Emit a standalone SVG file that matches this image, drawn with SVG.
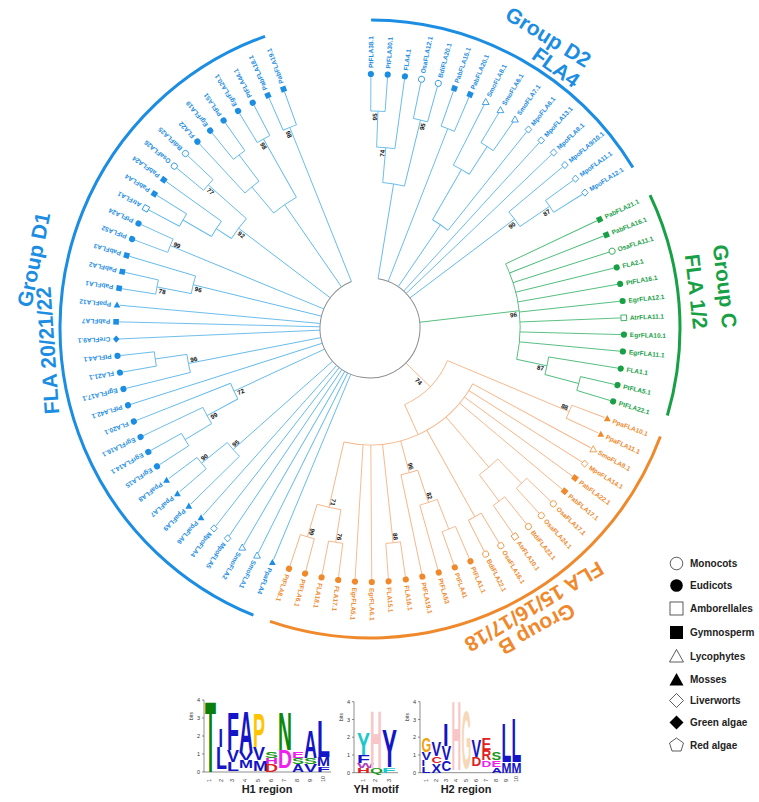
<svg xmlns="http://www.w3.org/2000/svg" width="759" height="802" viewBox="0 0 759 802">
<style>
text{font-family:'Liberation Sans',Arial,sans-serif;font-weight:bold}
.lf{font-size:6.5px}
.conn line,.conn circle{fill:none;stroke-width:0.9}
.cb line,.cb circle{stroke:#62b9ea}
.cg line,.cg circle{stroke:#4dbb7a}
.co line,.co circle{stroke:#f6b587}
.conn .root{stroke:#8c8c8c;stroke-width:1}
.nb text{fill:#1b8de2}.ng text{fill:#17a046}.no text{fill:#f0892c}
.nb .F{fill:#1b8de2}.nb .O{fill:#fff;stroke:#1b8de2;stroke-width:0.8}
.ng .F{fill:#17a046}.ng .O{fill:#fff;stroke:#17a046;stroke-width:0.8}
.no .F{fill:#f0892c}.no .O{fill:#fff;stroke:#f0892c;stroke-width:0.8}
.bs text{font-size:6.3px;fill:#111;text-anchor:middle;dominant-baseline:central}
.grp circle{fill:none;stroke-width:3}
.gl{font-size:21px;text-anchor:middle}
.leg text{font-size:10px;fill:#222}
.leg .s{fill:#fff;stroke:#333;stroke-width:0.8}
.leg .k{fill:#000}
.ax line{stroke:#444;stroke-width:0.6}
.ax text{font-size:5.5px;font-weight:normal;fill:#333}
.lg text{font-size:10px}
.cap{font-size:11px;fill:#222;text-anchor:middle}
</style>
<defs>
<circle id="C" r="3.1"/>
<rect id="S" x="-2.8" y="-2.8" width="5.6" height="5.6"/>
<path id="T" d="M0,-3.5L3.4,2.6L-3.4,2.6Z"/>
<path id="D" d="M0,-3.6L3.3,0L0,3.6L-3.3,0Z"/>
</defs>

<g transform="translate(370 328)">
<g id="group-arcs" class="grp">
<circle r="308" pathLength="360" stroke-dasharray="58.4 400" transform="rotate(-89.8)" stroke="#1b8de2"/>
<circle r="310" pathLength="360" stroke-dasharray="41.8 400" transform="rotate(-25.4)" stroke="#17a046"/>
<circle r="310" pathLength="360" stroke-dasharray="88.3 400" transform="rotate(20.5)" stroke="#f0892c"/>
<circle r="310" pathLength="360" stroke-dasharray="138.1 400" transform="rotate(112.1)" stroke="#1b8de2"/>
</g>

<g id="connectors" class="conn">
<circle class="root" r="50" pathLength="360" stroke-dasharray="328.9 400" transform="rotate(-80.7)"/>
<g class="cb">
<line x1="217" x2="251" transform="rotate(-89.8)"/>
<line x1="217" x2="251" transform="rotate(-86)"/>
<circle r="217" pathLength="360" stroke-dasharray="3.8 400" transform="rotate(-89.8)"/>
<line x1="181" x2="217" transform="rotate(-87.9)"/>
<line x1="181" x2="251" transform="rotate(-82.1)"/>
<circle r="181" pathLength="360" stroke-dasharray="5.8 400" transform="rotate(-87.9)"/>
<line x1="214" x2="251" transform="rotate(-78.3)"/>
<line x1="214" x2="251" transform="rotate(-74.4)"/>
<circle r="214" pathLength="360" stroke-dasharray="3.9 400" transform="rotate(-78.3)"/>
<line x1="146" x2="181" transform="rotate(-85)"/>
<line x1="146" x2="214" transform="rotate(-76.35)"/>
<circle r="146" pathLength="360" stroke-dasharray="8.65 400" transform="rotate(-85)"/>
<line x1="50" x2="146" transform="rotate(-80.7)"/>
<line x1="214" x2="251" transform="rotate(-70.6)"/>
<line x1="214" x2="251" transform="rotate(-66.8)"/>
<circle r="214" pathLength="360" stroke-dasharray="3.8 400" transform="rotate(-70.6)"/>
<line x1="50" x2="214" transform="rotate(-68.7)"/>
<line x1="216" x2="251" transform="rotate(-59.1)"/>
<line x1="216" x2="251" transform="rotate(-55.2)"/>
<circle r="216" pathLength="360" stroke-dasharray="3.9 400" transform="rotate(-59.1)"/>
<line x1="183" x2="251" transform="rotate(-62.9)"/>
<line x1="183" x2="216" transform="rotate(-57.15)"/>
<circle r="183" pathLength="360" stroke-dasharray="5.75 400" transform="rotate(-62.9)"/>
<line x1="125" x2="183" transform="rotate(-60)"/>
<line x1="125" x2="251" transform="rotate(-51.4)"/>
<circle r="125" pathLength="360" stroke-dasharray="8.6 400" transform="rotate(-60)"/>
<line x1="50" x2="125" transform="rotate(-55.7)"/>
<line x1="50" x2="251" transform="rotate(-47.6)"/>
<line x1="50" x2="251" transform="rotate(-43.7)"/>
<line x1="217" x2="251" transform="rotate(-36)"/>
<line x1="217" x2="251" transform="rotate(-32.2)"/>
<circle r="217" pathLength="360" stroke-dasharray="3.8 400" transform="rotate(-36)"/>
<line x1="181" x2="251" transform="rotate(-39.9)"/>
<line x1="181" x2="217" transform="rotate(-34.1)"/>
<circle r="181" pathLength="360" stroke-dasharray="5.8 400" transform="rotate(-39.9)"/>
<line x1="50" x2="181" transform="rotate(-37)"/>
<line x1="50" x2="251" transform="rotate(112.6)"/>
<line x1="50" x2="251" transform="rotate(116.4)"/>
<line x1="50" x2="251" transform="rotate(120.2)"/>
<line x1="50" x2="251" transform="rotate(124.1)"/>
<line x1="50" x2="251" transform="rotate(127.9)"/>
<line x1="50" x2="251" transform="rotate(131.7)"/>
<line x1="216" x2="251" transform="rotate(139.3)"/>
<line x1="216" x2="251" transform="rotate(143.2)"/>
<circle r="216" pathLength="360" stroke-dasharray="3.9 400" transform="rotate(139.3)"/>
<line x1="183" x2="216" transform="rotate(141.25)"/>
<line x1="183" x2="251" transform="rotate(135.5)"/>
<circle r="183" pathLength="360" stroke-dasharray="5.75 400" transform="rotate(135.5)"/>
<line x1="50" x2="183" transform="rotate(138.4)"/>
<line x1="216" x2="251" transform="rotate(147)"/>
<line x1="216" x2="251" transform="rotate(150.8)"/>
<circle r="216" pathLength="360" stroke-dasharray="3.8 400" transform="rotate(147)"/>
<line x1="185" x2="216" transform="rotate(148.9)"/>
<line x1="185" x2="251" transform="rotate(154.6)"/>
<circle r="185" pathLength="360" stroke-dasharray="5.7 400" transform="rotate(148.9)"/>
<line x1="150" x2="185" transform="rotate(151.75)"/>
<line x1="150" x2="251" transform="rotate(158.4)"/>
<circle r="150" pathLength="360" stroke-dasharray="6.65 400" transform="rotate(151.75)"/>
<line x1="50" x2="150" transform="rotate(155.1)"/>
<line x1="50" x2="251" transform="rotate(162.3)"/>
<line x1="217" x2="251" transform="rotate(169.9)"/>
<line x1="217" x2="251" transform="rotate(173.7)"/>
<circle r="217" pathLength="360" stroke-dasharray="3.8 400" transform="rotate(169.9)"/>
<line x1="185" x2="217" transform="rotate(171.8)"/>
<line x1="185" x2="251" transform="rotate(166.1)"/>
<circle r="185" pathLength="360" stroke-dasharray="5.7 400" transform="rotate(166.1)"/>
<line x1="50" x2="185" transform="rotate(168.95)"/>
<line x1="50" x2="251" transform="rotate(177.5)"/>
<line x1="50" x2="251" transform="rotate(181.4)"/>
<line x1="50" x2="251" transform="rotate(185.2)"/>
<line x1="217" x2="251" transform="rotate(189)"/>
<line x1="217" x2="251" transform="rotate(192.8)"/>
<circle r="217" pathLength="360" stroke-dasharray="3.8 400" transform="rotate(189)"/>
<line x1="182" x2="217" transform="rotate(190.9)"/>
<line x1="182" x2="251" transform="rotate(196.6)"/>
<circle r="182" pathLength="360" stroke-dasharray="5.7 400" transform="rotate(190.9)"/>
<line x1="50" x2="182" transform="rotate(193.75)"/>
<line x1="216" x2="251" transform="rotate(200.5)"/>
<line x1="216" x2="251" transform="rotate(204.3)"/>
<circle r="216" pathLength="360" stroke-dasharray="3.8 400" transform="rotate(200.5)"/>
<line x1="50" x2="216" transform="rotate(202.4)"/>
<line x1="216" x2="251" transform="rotate(208.1)"/>
<line x1="216" x2="251" transform="rotate(211.9)"/>
<circle r="216" pathLength="360" stroke-dasharray="3.8 400" transform="rotate(208.1)"/>
<line x1="183" x2="216" transform="rotate(210)"/>
<line x1="183" x2="251" transform="rotate(215.7)"/>
<circle r="183" pathLength="360" stroke-dasharray="5.7 400" transform="rotate(210)"/>
<line x1="165" x2="183" transform="rotate(212.85)"/>
<line x1="216" x2="251" transform="rotate(219.6)"/>
<line x1="216" x2="251" transform="rotate(223.4)"/>
<circle r="216" pathLength="360" stroke-dasharray="3.8 400" transform="rotate(219.6)"/>
<line x1="165" x2="216" transform="rotate(221.5)"/>
<circle r="165" pathLength="360" stroke-dasharray="8.65 400" transform="rotate(212.85)"/>
<line x1="50" x2="165" transform="rotate(217.2)"/>
<line x1="217" x2="251" transform="rotate(231)"/>
<line x1="217" x2="251" transform="rotate(234.8)"/>
<circle r="217" pathLength="360" stroke-dasharray="3.8 400" transform="rotate(231)"/>
<line x1="184" x2="217" transform="rotate(232.9)"/>
<line x1="184" x2="251" transform="rotate(227.2)"/>
<circle r="184" pathLength="360" stroke-dasharray="5.7 400" transform="rotate(227.2)"/>
<line x1="150" x2="184" transform="rotate(230.05)"/>
<line x1="217" x2="251" transform="rotate(238.7)"/>
<line x1="217" x2="251" transform="rotate(242.5)"/>
<circle r="217" pathLength="360" stroke-dasharray="3.8 400" transform="rotate(238.7)"/>
<line x1="150" x2="217" transform="rotate(240.6)"/>
<circle r="150" pathLength="360" stroke-dasharray="10.55 400" transform="rotate(230.05)"/>
<line x1="50" x2="150" transform="rotate(235.3)"/>
<line x1="216" x2="251" transform="rotate(246.3)"/>
<line x1="216" x2="251" transform="rotate(250.1)"/>
<circle r="216" pathLength="360" stroke-dasharray="3.8 400" transform="rotate(246.3)"/>
<line x1="50" x2="216" transform="rotate(248.2)"/>
</g>
<g class="cg">
<line x1="150" x2="251" transform="rotate(-25.3)"/>
<line x1="150" x2="251" transform="rotate(-21.5)"/>
<line x1="150" x2="251" transform="rotate(-17.6)"/>
<line x1="150" x2="251" transform="rotate(-13.8)"/>
<line x1="150" x2="251" transform="rotate(-10)"/>
<line x1="150" x2="251" transform="rotate(-6.1)"/>
<line x1="150" x2="251" transform="rotate(-2.3)"/>
<line x1="150" x2="251" transform="rotate(1.5)"/>
<line x1="150" x2="251" transform="rotate(5.3)"/>
<line x1="181" x2="251" transform="rotate(9.2)"/>
<line x1="216" x2="251" transform="rotate(13)"/>
<line x1="216" x2="251" transform="rotate(16.8)"/>
<circle r="216" pathLength="360" stroke-dasharray="3.8 400" transform="rotate(13)"/>
<line x1="181" x2="216" transform="rotate(14.9)"/>
<circle r="181" pathLength="360" stroke-dasharray="5.7 400" transform="rotate(9.2)"/>
<line x1="150" x2="181" transform="rotate(12.05)"/>
<circle r="150" pathLength="360" stroke-dasharray="37.35 400" transform="rotate(-25.3)"/>
<line x1="50" x2="150" transform="rotate(-6.6)"/>
</g>
<g class="co">
<line x1="216" x2="251" transform="rotate(20.9)"/>
<line x1="216" x2="251" transform="rotate(24.7)"/>
<circle r="216" pathLength="360" stroke-dasharray="3.8 400" transform="rotate(20.9)"/>
<line x1="84" x2="216" transform="rotate(22.8)"/>
<line x1="117" x2="251" transform="rotate(28.5)"/>
<line x1="117" x2="251" transform="rotate(32.3)"/>
<line x1="117" x2="251" transform="rotate(36.2)"/>
<line x1="117" x2="251" transform="rotate(40)"/>
<line x1="217" x2="251" transform="rotate(43.8)"/>
<line x1="217" x2="251" transform="rotate(47.6)"/>
<circle r="217" pathLength="360" stroke-dasharray="3.8 400" transform="rotate(43.8)"/>
<line x1="216" x2="251" transform="rotate(51.4)"/>
<line x1="216" x2="251" transform="rotate(55.2)"/>
<circle r="216" pathLength="360" stroke-dasharray="3.8 400" transform="rotate(51.4)"/>
<line x1="183" x2="217" transform="rotate(45.7)"/>
<line x1="183" x2="216" transform="rotate(53.3)"/>
<circle r="183" pathLength="360" stroke-dasharray="7.6 400" transform="rotate(45.7)"/>
<line x1="117" x2="183" transform="rotate(49.5)"/>
<line x1="216" x2="251" transform="rotate(59)"/>
<line x1="216" x2="251" transform="rotate(62.9)"/>
<circle r="216" pathLength="360" stroke-dasharray="3.9 400" transform="rotate(59)"/>
<line x1="117" x2="216" transform="rotate(60.95)"/>
<line x1="216" x2="251" transform="rotate(66.7)"/>
<line x1="216" x2="251" transform="rotate(70.5)"/>
<circle r="216" pathLength="360" stroke-dasharray="3.8 400" transform="rotate(66.7)"/>
<line x1="184" x2="216" transform="rotate(68.6)"/>
<line x1="184" x2="251" transform="rotate(74.3)"/>
<circle r="184" pathLength="360" stroke-dasharray="5.7 400" transform="rotate(68.6)"/>
<line x1="150" x2="184" transform="rotate(71.45)"/>
<line x1="150" x2="251" transform="rotate(78.1)"/>
<circle r="150" pathLength="360" stroke-dasharray="6.65 400" transform="rotate(71.45)"/>
<line x1="117" x2="150" transform="rotate(74.8)"/>
<line x1="216" x2="251" transform="rotate(81.9)"/>
<line x1="216" x2="251" transform="rotate(85.8)"/>
<circle r="216" pathLength="360" stroke-dasharray="3.9 400" transform="rotate(81.9)"/>
<line x1="117" x2="216" transform="rotate(83.85)"/>
<line x1="117" x2="251" transform="rotate(89.6)"/>
<line x1="117" x2="251" transform="rotate(93.4)"/>
<line x1="217" x2="251" transform="rotate(97.2)"/>
<line x1="217" x2="251" transform="rotate(101)"/>
<circle r="217" pathLength="360" stroke-dasharray="3.8 400" transform="rotate(97.2)"/>
<line x1="184" x2="217" transform="rotate(99.1)"/>
<line x1="218" x2="251" transform="rotate(104.8)"/>
<line x1="218" x2="251" transform="rotate(108.6)"/>
<circle r="218" pathLength="360" stroke-dasharray="3.8 400" transform="rotate(104.8)"/>
<line x1="184" x2="218" transform="rotate(106.7)"/>
<circle r="184" pathLength="360" stroke-dasharray="7.6 400" transform="rotate(99.1)"/>
<line x1="117" x2="184" transform="rotate(102.9)"/>
<circle r="117" pathLength="360" stroke-dasharray="74.4 400" transform="rotate(28.5)"/>
<line x1="84" x2="117" transform="rotate(65.7)"/>
<circle r="84" pathLength="360" stroke-dasharray="42.9 400" transform="rotate(22.8)"/>
<line x1="50" x2="84" transform="rotate(44.25)"/>
</g>
</g>

<g id="bootstrap" class="bs">
<text transform="rotate(-87.9) translate(211 -3.2)">95</text>
<text transform="rotate(-85) translate(175 -3.2)">74</text>
<text transform="rotate(-76.35) translate(208 3.2)">95</text>
<text transform="rotate(-34.1) translate(211 3.2)">87</text>
<text transform="rotate(-37) translate(175 3.2)">90</text>
<text transform="rotate(-6.6) translate(144 3.2)">96</text>
<text transform="rotate(12.05) translate(175 3.2)">87</text>
<text transform="rotate(22.8) translate(210 -3.2)">88</text>
<text transform="rotate(44.25) translate(72 4)">74</text>
<text transform="rotate(71.45) translate(178 -3.2)">82</text>
<text transform="rotate(74.8) translate(144 -3.2)">96</text>
<text transform="rotate(83.85) translate(210 -3.2)">88</text>
<text transform="rotate(99.1) translate(211 -3.2)">76</text>
<text transform="rotate(106.7) translate(212 -3.2)">99</text>
<text transform="rotate(102.9) translate(178 -3.2)">71</text>
<text transform="rotate(141.25) translate(210 3.2) rotate(180)">90</text>
<text transform="rotate(138.4) translate(177 3.2) rotate(180)">95</text>
<text transform="rotate(151.75) translate(179 -3.2) rotate(180)">99</text>
<text transform="rotate(155.1) translate(144 -3.2) rotate(180)">72</text>
<text transform="rotate(168.95) translate(179 3.2) rotate(180)">96</text>
<text transform="rotate(190.9) translate(211 -3.2) rotate(180)">78</text>
<text transform="rotate(193.75) translate(176 -3.2) rotate(180)">96</text>
<text transform="rotate(202.4) translate(210 3.2) rotate(180)">99</text>
<text transform="rotate(217.2) translate(159 -3.2) rotate(180)">92</text>
<text transform="rotate(221.5) translate(210 -3.2) rotate(180)">77</text>
<text transform="rotate(240.6) translate(211 -3.2) rotate(180)">98</text>
<text transform="rotate(248.2) translate(210 -3.2) rotate(180)">98</text>
</g>

<g id="n-PtFLA38.1" class="nb" transform="rotate(-89.8)"><use href="#C" x="254" class="F"/><text x="260" y="2.3" class="lf">PtFLA38.1</text></g>
<g id="n-PtFLA30.1" class="nb" transform="rotate(-86)"><use href="#C" x="254" class="F"/><text x="260" y="2.3" class="lf">PtFLA30.1</text></g>
<g id="n-FLA4.1" class="nb" transform="rotate(-82.1)"><use href="#C" x="254" class="F"/><text x="260" y="2.3" class="lf">FLA4.1</text></g>
<g id="n-OsaFLA12.1" class="nb" transform="rotate(-78.3)"><use href="#C" x="254" class="O"/><text x="260" y="2.3" class="lf">OsaFLA12.1</text></g>
<g id="n-BdiFLA20.1" class="nb" transform="rotate(-74.4)"><use href="#C" x="254" class="O"/><text x="260" y="2.3" class="lf">BdiFLA20.1</text></g>
<g id="n-PabFLA15.1" class="nb" transform="rotate(-70.6)"><use href="#S" x="254" class="F"/><text x="260" y="2.3" class="lf">PabFLA15.1</text></g>
<g id="n-PabFLA20.1" class="nb" transform="rotate(-66.8)"><use href="#S" x="254" class="F"/><text x="260" y="2.3" class="lf">PabFLA20.1</text></g>
<g id="n-SmoFLA8.1" class="nb" transform="rotate(-62.9)"><use href="#T" class="O" transform="translate(254) rotate(62.9)"/><text x="260" y="2.3" class="lf">SmoFLA8.1</text></g>
<g id="n-SmoFLA6.1" class="nb" transform="rotate(-59.1)"><use href="#T" class="O" transform="translate(254) rotate(59.1)"/><text x="260" y="2.3" class="lf">SmoFLA6.1</text></g>
<g id="n-SmoFLA7.1" class="nb" transform="rotate(-55.2)"><use href="#T" class="O" transform="translate(254) rotate(55.2)"/><text x="260" y="2.3" class="lf">SmoFLA7.1</text></g>
<g id="n-MpoFLA6.1" class="nb" transform="rotate(-51.4)"><use href="#D" class="O" transform="translate(254) rotate(51.4)"/><text x="260" y="2.3" class="lf">MpoFLA6.1</text></g>
<g id="n-MpoFLA13.1" class="nb" transform="rotate(-47.6)"><use href="#D" class="O" transform="translate(254) rotate(47.6)"/><text x="260" y="2.3" class="lf">MpoFLA13.1</text></g>
<g id="n-MpoFLA8.1" class="nb" transform="rotate(-43.7)"><use href="#D" class="O" transform="translate(254) rotate(43.7)"/><text x="260" y="2.3" class="lf">MpoFLA8.1</text></g>
<g id="n-MpoFLA9-10.1" class="nb" transform="rotate(-39.9)"><use href="#D" class="O" transform="translate(254) rotate(39.9)"/><text x="260" y="2.3" class="lf">MpoFLA9/10.1</text></g>
<g id="n-MpoFLA11.1" class="nb" transform="rotate(-36)"><use href="#D" class="O" transform="translate(254) rotate(36)"/><text x="260" y="2.3" class="lf">MpoFLA11.1</text></g>
<g id="n-MpoFLA12.1" class="nb" transform="rotate(-32.2)"><use href="#D" class="O" transform="translate(254) rotate(32.2)"/><text x="260" y="2.3" class="lf">MpoFLA12.1</text></g>

<g id="n-PabFLA21.1" class="ng" transform="rotate(-25.3)"><use href="#S" x="254" class="F"/><text x="260" y="2.3" class="lf">PabFLA21.1</text></g>
<g id="n-PabFLA16.1" class="ng" transform="rotate(-21.5)"><use href="#S" x="254" class="F"/><text x="260" y="2.3" class="lf">PabFLA16.1</text></g>
<g id="n-OsaFLA11.1" class="ng" transform="rotate(-17.6)"><use href="#C" x="254" class="O"/><text x="260" y="2.3" class="lf">OsaFLA11.1</text></g>
<g id="n-FLA2.1" class="ng" transform="rotate(-13.8)"><use href="#C" x="254" class="F"/><text x="260" y="2.3" class="lf">FLA2.1</text></g>
<g id="n-PtFLA16.1" class="ng" transform="rotate(-10)"><use href="#C" x="254" class="F"/><text x="260" y="2.3" class="lf">PtFLA16.1</text></g>
<g id="n-EgrFLA12.1" class="ng" transform="rotate(-6.1)"><use href="#C" x="254" class="F"/><text x="260" y="2.3" class="lf">EgrFLA12.1</text></g>
<g id="n-AtrFLA11.1" class="ng" transform="rotate(-2.3)"><use href="#S" x="254" class="O"/><text x="260" y="2.3" class="lf">AtrFLA11.1</text></g>
<g id="n-EgrFLA10.1" class="ng" transform="rotate(1.5)"><use href="#C" x="254" class="F"/><text x="260" y="2.3" class="lf">EgrFLA10.1</text></g>
<g id="n-EgrFLA11.1" class="ng" transform="rotate(5.3)"><use href="#C" x="254" class="F"/><text x="260" y="2.3" class="lf">EgrFLA11.1</text></g>
<g id="n-FLA1.1" class="ng" transform="rotate(9.2)"><use href="#C" x="254" class="F"/><text x="260" y="2.3" class="lf">FLA1.1</text></g>
<g id="n-PtFLA5.1" class="ng" transform="rotate(13)"><use href="#C" x="254" class="F"/><text x="260" y="2.3" class="lf">PtFLA5.1</text></g>
<g id="n-PtFLA22.1" class="ng" transform="rotate(16.8)"><use href="#C" x="254" class="F"/><text x="260" y="2.3" class="lf">PtFLA22.1</text></g>

<g id="n-PpaFLA10.1" class="no" transform="rotate(20.9)"><use href="#T" class="F" transform="translate(254) rotate(-20.9)"/><text x="260" y="2.3" class="lf">PpaFLA10.1</text></g>
<g id="n-PpaFLA11.1" class="no" transform="rotate(24.7)"><use href="#T" class="F" transform="translate(254) rotate(-24.7)"/><text x="260" y="2.3" class="lf">PpaFLA11.1</text></g>
<g id="n-SmoFLA9.1" class="no" transform="rotate(28.5)"><use href="#T" class="O" transform="translate(254) rotate(-28.5)"/><text x="260" y="2.3" class="lf">SmoFLA9.1</text></g>
<g id="n-MpoFLA14.1" class="no" transform="rotate(32.3)"><use href="#D" class="O" transform="translate(254) rotate(-32.3)"/><text x="260" y="2.3" class="lf">MpoFLA14.1</text></g>
<g id="n-PabFLA22.1" class="no" transform="rotate(36.2)"><use href="#S" x="254" class="F"/><text x="260" y="2.3" class="lf">PabFLA22.1</text></g>
<g id="n-PabFLA17.1" class="no" transform="rotate(40)"><use href="#S" x="254" class="F"/><text x="260" y="2.3" class="lf">PabFLA17.1</text></g>
<g id="n-OsaFLA17.1" class="no" transform="rotate(43.8)"><use href="#C" x="254" class="O"/><text x="260" y="2.3" class="lf">OsaFLA17.1</text></g>
<g id="n-OsaFLA24.1" class="no" transform="rotate(47.6)"><use href="#C" x="254" class="O"/><text x="260" y="2.3" class="lf">OsaFLA24.1</text></g>
<g id="n-BdiFLA23.1" class="no" transform="rotate(51.4)"><use href="#C" x="254" class="O"/><text x="260" y="2.3" class="lf">BdiFLA23.1</text></g>
<g id="n-AtrFLA10.1" class="no" transform="rotate(55.2)"><use href="#S" x="254" class="O"/><text x="260" y="2.3" class="lf">AtrFLA10.1</text></g>
<g id="n-OsaFLA16.1" class="no" transform="rotate(59)"><use href="#C" x="254" class="O"/><text x="260" y="2.3" class="lf">OsaFLA16.1</text></g>
<g id="n-BdiFLA22.1" class="no" transform="rotate(62.9)"><use href="#C" x="254" class="O"/><text x="260" y="2.3" class="lf">BdiFLA22.1</text></g>
<g id="n-PtFLA1.1" class="no" transform="rotate(66.7)"><use href="#C" x="254" class="F"/><text x="260" y="2.3" class="lf">PtFLA1.1</text></g>
<g id="n-PtFLA41" class="no" transform="rotate(70.5)"><use href="#C" x="254" class="F"/><text x="260" y="2.3" class="lf">PtFLA41</text></g>
<g id="n-PtFLA53" class="no" transform="rotate(74.3)"><use href="#C" x="254" class="F"/><text x="260" y="2.3" class="lf">PtFLA53</text></g>
<g id="n-PtFLA19.1" class="no" transform="rotate(78.1)"><use href="#C" x="254" class="F"/><text x="260" y="2.3" class="lf">PtFLA19.1</text></g>
<g id="n-FLA16.1" class="no" transform="rotate(81.9)"><use href="#C" x="254" class="F"/><text x="260" y="2.3" class="lf">FLA16.1</text></g>
<g id="n-FLA15.1" class="no" transform="rotate(85.8)"><use href="#C" x="254" class="F"/><text x="260" y="2.3" class="lf">FLA15.1</text></g>
<g id="n-EgrFLA6.1" class="no" transform="rotate(89.6)"><use href="#C" x="254" class="F"/><text x="260" y="2.3" class="lf">EgrFLA6.1</text></g>
<g id="n-EgrFLA5.1" class="no" transform="rotate(93.4)"><use href="#C" x="254" class="F"/><text x="260" y="2.3" class="lf">EgrFLA5.1</text></g>
<g id="n-FLA17.1" class="no" transform="rotate(97.2)"><use href="#C" x="254" class="F"/><text x="260" y="2.3" class="lf">FLA17.1</text></g>
<g id="n-FLA18.1" class="no" transform="rotate(101)"><use href="#C" x="254" class="F"/><text x="260" y="2.3" class="lf">FLA18.1</text></g>
<g id="n-PtFLA6.1" class="no" transform="rotate(104.8)"><use href="#C" x="254" class="F"/><text x="260" y="2.3" class="lf">PtFLA6.1</text></g>
<g id="n-PtFLA8.1" class="no" transform="rotate(108.6)"><use href="#C" x="254" class="F"/><text x="260" y="2.3" class="lf">PtFLA8.1</text></g>

<g id="n-PpaFLA4" class="nb" transform="rotate(112.6)"><use href="#T" class="F" transform="translate(254) rotate(-112.6)"/><text x="260" y="2.3" class="lf">PpaFLA4</text></g>
<g id="n-SmoFLA1" class="nb" transform="rotate(116.4)"><use href="#T" class="O" transform="translate(254) rotate(-116.4)"/><text x="260" y="2.3" class="lf">SmoFLA1</text></g>
<g id="n-SmoFLA2" class="nb" transform="rotate(120.2)"><use href="#T" class="O" transform="translate(254) rotate(-120.2)"/><text x="260" y="2.3" class="lf">SmoFLA2</text></g>
<g id="n-MpoFLA5" class="nb" transform="rotate(124.1)"><use href="#D" class="O" transform="translate(254) rotate(-124.1)"/><text x="260" y="2.3" class="lf">MpoFLA5</text></g>
<g id="n-MpoFLA4" class="nb" transform="rotate(127.9)"><use href="#D" class="O" transform="translate(254) rotate(-127.9)"/><text x="260" y="2.3" class="lf">MpoFLA4</text></g>
<g id="n-PpaFLA6" class="nb" transform="rotate(131.7)"><use href="#T" class="F" transform="translate(254) rotate(-131.7)"/><text x="260" y="2.3" class="lf">PpaFLA6</text></g>
<g id="n-PpaFLA9" class="nb" transform="rotate(135.5)"><use href="#T" class="F" transform="translate(254) rotate(-135.5)"/><text x="260" y="2.3" class="lf">PpaFLA9</text></g>
<g id="n-PpaFLA7" class="nb" transform="rotate(139.3)"><use href="#T" class="F" transform="translate(254) rotate(-139.3)"/><text x="260" y="2.3" class="lf">PpaFLA7</text></g>
<g id="n-PpaFLA8" class="nb" transform="rotate(143.2)"><use href="#T" class="F" transform="translate(254) rotate(-143.2)"/><text x="260" y="2.3" class="lf">PpaFLA8</text></g>
<g id="n-EgrFLA15" class="nb" transform="rotate(147)"><use href="#C" x="254" class="F"/><text x="260" y="2.3" class="lf">EgrFLA15</text></g>
<g id="n-EgrFLA14.1" class="nb" transform="rotate(150.8)"><use href="#C" x="254" class="F"/><text x="260" y="2.3" class="lf">EgrFLA14.1</text></g>
<g id="n-EgrFLA16.1" class="nb" transform="rotate(154.6)"><use href="#C" x="254" class="F"/><text x="260" y="2.3" class="lf">EgrFLA16.1</text></g>
<g id="n-FLA20.1" class="nb" transform="rotate(158.4)"><use href="#C" x="254" class="F"/><text x="260" y="2.3" class="lf">FLA20.1</text></g>
<g id="n-PtFLA42.1" class="nb" transform="rotate(162.3)"><use href="#C" x="254" class="F"/><text x="260" y="2.3" class="lf">PtFLA42.1</text></g>
<g id="n-EgrFLA17.1" class="nb" transform="rotate(166.1)"><use href="#C" x="254" class="F"/><text x="260" y="2.3" class="lf">EgrFLA17.1</text></g>
<g id="n-FLA21.1" class="nb" transform="rotate(169.9)"><use href="#C" x="254" class="F"/><text x="260" y="2.3" class="lf">FLA21.1</text></g>
<g id="n-PtFLA4.1" class="nb" transform="rotate(173.7)"><use href="#C" x="254" class="F"/><text x="260" y="2.3" class="lf">PtFLA4.1</text></g>
<g id="n-CreFLA9.1" class="nb" transform="rotate(177.5)"><use href="#D" class="F" transform="translate(254) rotate(-177.5)"/><text x="260" y="2.3" class="lf">CreFLA9.1</text></g>
<g id="n-PabFLA7" class="nb" transform="rotate(181.4)"><use href="#S" x="254" class="F"/><text x="260" y="2.3" class="lf">PabFLA7</text></g>
<g id="n-PpaFLA12" class="nb" transform="rotate(185.2)"><use href="#T" class="F" transform="translate(254) rotate(-185.2)"/><text x="260" y="2.3" class="lf">PpaFLA12</text></g>
<g id="n-PabFLA1" class="nb" transform="rotate(189)"><use href="#S" x="254" class="F"/><text x="260" y="2.3" class="lf">PabFLA1</text></g>
<g id="n-PabFLA2" class="nb" transform="rotate(192.8)"><use href="#S" x="254" class="F"/><text x="260" y="2.3" class="lf">PabFLA2</text></g>
<g id="n-PabFLA3" class="nb" transform="rotate(196.6)"><use href="#S" x="254" class="F"/><text x="260" y="2.3" class="lf">PabFLA3</text></g>
<g id="n-PtFLA52" class="nb" transform="rotate(200.5)"><use href="#C" x="254" class="F"/><text x="260" y="2.3" class="lf">PtFLA52</text></g>
<g id="n-PtFLA24" class="nb" transform="rotate(204.3)"><use href="#C" x="254" class="F"/><text x="260" y="2.3" class="lf">PtFLA24</text></g>
<g id="n-AtrFLA1" class="nb" transform="rotate(208.1)"><use href="#S" x="254" class="O"/><text x="260" y="2.3" class="lf">AtrFLA1</text></g>
<g id="n-PabFLA4" class="nb" transform="rotate(211.9)"><use href="#S" x="254" class="F"/><text x="260" y="2.3" class="lf">PabFLA4</text></g>
<g id="n-PabFLA24" class="nb" transform="rotate(215.7)"><use href="#S" x="254" class="F"/><text x="260" y="2.3" class="lf">PabFLA24</text></g>
<g id="n-OsaFLA26" class="nb" transform="rotate(219.6)"><use href="#C" x="254" class="O"/><text x="260" y="2.3" class="lf">OsaFLA26</text></g>
<g id="n-BdiFLA25" class="nb" transform="rotate(223.4)"><use href="#C" x="254" class="O"/><text x="260" y="2.3" class="lf">BdiFLA25</text></g>
<g id="n-FLA22" class="nb" transform="rotate(227.2)"><use href="#C" x="254" class="F"/><text x="260" y="2.3" class="lf">FLA22</text></g>
<g id="n-EgrFLA19" class="nb" transform="rotate(231)"><use href="#C" x="254" class="F"/><text x="260" y="2.3" class="lf">EgrFLA19</text></g>
<g id="n-PtFLA51" class="nb" transform="rotate(234.8)"><use href="#C" x="254" class="F"/><text x="260" y="2.3" class="lf">PtFLA51</text></g>
<g id="n-EgrFLA20.1" class="nb" transform="rotate(238.7)"><use href="#C" x="254" class="F"/><text x="260" y="2.3" class="lf">EgrFLA20.1</text></g>
<g id="n-PtFLA44.1" class="nb" transform="rotate(242.5)"><use href="#C" x="254" class="F"/><text x="260" y="2.3" class="lf">PtFLA44.1</text></g>
<g id="n-PabFLA18.1" class="nb" transform="rotate(246.3)"><use href="#S" x="254" class="F"/><text x="260" y="2.3" class="lf">PabFLA18.1</text></g>
<g id="n-PabFLA19.1" class="nb" transform="rotate(250.1)"><use href="#S" x="254" class="F"/><text x="260" y="2.3" class="lf">PabFLA19.1</text></g>

<g id="group-labels" class="gl">
<text transform="rotate(-58.5) translate(334 0) rotate(90)" fill="#1b8de2">Group D2</text>
<text transform="rotate(-54.5) translate(313 0) rotate(90)" fill="#1b8de2">FLA4</text>
<text transform="rotate(-6.7) translate(350 0) rotate(90)" fill="#17a046">Group C</text>
<text transform="rotate(-6.4) translate(321 0) rotate(90)" fill="#17a046">FLA 1/2</text>
<text transform="rotate(61) translate(337 0) rotate(90)" fill="#f0892c">Group B</text>
<text transform="rotate(59.5) translate(316 0) rotate(90)" fill="#f0892c">FLA 15/16/17/18</text>
<text transform="rotate(191.5) translate(336 0) rotate(90)" fill="#1b8de2">Group D1</text>
<text transform="rotate(176) translate(316 0) rotate(90)" fill="#1b8de2">FLA 20/21/22</text>
</g>
</g>

<g id="legend" class="leg">
<circle cx="676.5" cy="563.5" r="6.3" class="s"/><text x="690" y="567.2">Monocots</text>
<circle cx="676.5" cy="585.5" r="6.3" class="k"/><text x="690" y="589.2">Eudicots</text>
<rect x="670" y="602" width="13" height="13" class="s"/><text x="690" y="612">Amborellales</text>
<rect x="670" y="626" width="13" height="13" class="k"/><text x="690" y="636.3">Gymnosperm</text>
<path d="M676.5,649.5L683.5,662L669.5,662Z" class="s"/><text x="690" y="660">Lycophytes</text>
<path d="M676.5,673L683.5,685.5L669.5,685.5Z" class="k"/><text x="690" y="683.3">Mosses</text>
<path d="M676.5,693.5L683.5,700.5L676.5,707.5L669.5,700.5Z" class="s"/><text x="690" y="704">Liverworts</text>
<path d="M676.5,715.5L683.5,722.5L676.5,729.5L669.5,722.5Z" class="k"/><text x="690" y="726">Green algae</text>
<path d="M676.5,738L683.5,743L681,751L672,751L669.5,743Z" class="s"/><text x="690" y="748.5">Red algae</text>
</g>

<g id="logos">
<g class="ax">
<line x1="204" y1="700" x2="204" y2="772"/><line x1="204" y1="772" x2="331" y2="772"/>
<line x1="202" y1="700" x2="204" y2="700"/><line x1="202" y1="718" x2="204" y2="718"/><line x1="202" y1="736" x2="204" y2="736"/><line x1="202" y1="754" x2="204" y2="754"/><line x1="202" y1="772" x2="204" y2="772"/>
<text x="200" y="702" text-anchor="end">4</text><text x="200" y="720" text-anchor="end">3</text><text x="200" y="738" text-anchor="end">2</text><text x="200" y="756" text-anchor="end">1</text><text x="200" y="774" text-anchor="end">0</text>
<text transform="translate(193 716) rotate(-90)" text-anchor="middle" style="font-size:5px">bits</text>
<line x1="354" y1="701.7" x2="354" y2="772.7"/><line x1="354" y1="772.7" x2="398" y2="772.7"/>
<line x1="352" y1="701.7" x2="354" y2="701.7"/><line x1="352" y1="719.5" x2="354" y2="719.5"/><line x1="352" y1="737.2" x2="354" y2="737.2"/><line x1="352" y1="755" x2="354" y2="755"/><line x1="352" y1="772.7" x2="354" y2="772.7"/>
<text x="350" y="703.7" text-anchor="end">4</text><text x="350" y="721.5" text-anchor="end">3</text><text x="350" y="739.2" text-anchor="end">2</text><text x="350" y="757" text-anchor="end">1</text><text x="350" y="774.7" text-anchor="end">0</text>
<text transform="translate(343 717) rotate(-90)" text-anchor="middle" style="font-size:5px">bits</text>
<line x1="420" y1="701.7" x2="420" y2="772.7"/><line x1="420" y1="772.7" x2="520" y2="772.7"/>
<line x1="418" y1="701.7" x2="420" y2="701.7"/><line x1="418" y1="719.5" x2="420" y2="719.5"/><line x1="418" y1="737.2" x2="420" y2="737.2"/><line x1="418" y1="755" x2="420" y2="755"/><line x1="418" y1="772.7" x2="420" y2="772.7"/>
<text x="416" y="703.7" text-anchor="end">4</text><text x="416" y="721.5" text-anchor="end">3</text><text x="416" y="739.2" text-anchor="end">2</text><text x="416" y="757" text-anchor="end">1</text><text x="416" y="774.7" text-anchor="end">0</text>
<text transform="translate(409 717) rotate(-90)" text-anchor="middle" style="font-size:5px">bits</text>
<g style="font-size:4.5px">
<text transform="translate(211 782) rotate(-90)">1</text><text transform="translate(223 782) rotate(-90)">2</text><text transform="translate(234 782) rotate(-90)">3</text><text transform="translate(247 782) rotate(-90)">4</text><text transform="translate(260 782) rotate(-90)">5</text><text transform="translate(273 782) rotate(-90)">6</text><text transform="translate(286 782) rotate(-90)">7</text><text transform="translate(299 782) rotate(-90)">8</text><text transform="translate(312 782) rotate(-90)">9</text><text transform="translate(325 782) rotate(-90)">10</text>
<text transform="translate(365 782) rotate(-90)">1</text><text transform="translate(377 782) rotate(-90)">2</text><text transform="translate(391 782) rotate(-90)">3</text>
<text transform="translate(428 782) rotate(-90)">1</text><text transform="translate(438 782) rotate(-90)">2</text><text transform="translate(448 782) rotate(-90)">3</text><text transform="translate(458 782) rotate(-90)">4</text><text transform="translate(468 782) rotate(-90)">5</text><text transform="translate(478 782) rotate(-90)">6</text><text transform="translate(488 782) rotate(-90)">7</text><text transform="translate(498 782) rotate(-90)">8</text><text transform="translate(508 782) rotate(-90)">9</text><text transform="translate(518 782) rotate(-90)">10</text>
</g>
</g>
<g class="lg">
<text transform="translate(205 772) scale(1.8 10.06)" fill="#0a7d0a">T</text>
<text transform="translate(218.5 747) scale(1.6 2.65)" fill="#1414c8">I</text>
<text transform="translate(216 769) scale(1.8 3.07)" fill="#1414c8">L</text>
<text transform="translate(227 750) scale(1.96 5.3)" fill="#1414c8">F</text>
<text transform="translate(227 762) scale(1.8 1.68)" fill="#1414c8">V</text>
<text transform="translate(227 771) scale(1.96 1.26)" fill="#1414c8">L</text>
<text transform="translate(239 752) scale(1.94 5.73)" fill="#1414c8">A</text>
<text transform="translate(239 760) scale(2.1 1.12)" fill="#1414c8">V</text>
<text transform="translate(239 768) scale(1.68 1.12)" fill="#1414c8">M</text>
<text transform="translate(253 747) scale(1.8 4.75)" fill="#ffc400">P</text>
<text transform="translate(253 760) scale(1.8 1.82)" fill="#1414c8">V</text>
<text transform="translate(253 771) scale(1.8 1.4)" fill="#1414c8">M</text>
<text transform="translate(265 758) scale(1.95 0.84)" fill="#1a9a1a">S</text>
<text transform="translate(265 764) scale(1.8 0.84)" fill="#e01fe0">H</text>
<text transform="translate(265 771.5) scale(1.8 1.05)" fill="#e02020">D</text>
<text transform="translate(278 750) scale(1.94 5.31)" fill="#0a8a0a">N</text>
<text transform="translate(278 768) scale(1.94 2.51)" fill="#ee22ee">D</text>
<text transform="translate(292 758) scale(1.8 0.84)" fill="#ee22ee">E</text>
<text transform="translate(292 764) scale(1.8 0.84)" fill="#1a9a1a">S</text>
<text transform="translate(292 771.5) scale(1.66 1.05)" fill="#1414c8">A</text>
<text transform="translate(304 758) scale(1.8 3.91)" fill="#1414c8">A</text>
<text transform="translate(304 764) scale(1.95 0.84)" fill="#1a9a1a">S</text>
<text transform="translate(304 771.5) scale(1.95 1.05)" fill="#1414c8">V</text>
<text transform="translate(317 757) scale(2.13 5.17)" fill="#1414c8">L</text>
<text transform="translate(317 766) scale(1.56 1.26)" fill="#1414c8">M</text>
<text transform="translate(317 771.5) scale(2.13 0.77)" fill="#1414c8">F</text>
<text transform="translate(357 755) scale(1.95 3.07)" fill="#1ec8c8">Y</text>
<text transform="translate(357 763) scale(2.13 1.12)" fill="#1414c8">F</text>
<text transform="translate(357 768) scale(1.8 0.7)" fill="#b040c0">W</text>
<text transform="translate(357 772.7) scale(1.8 0.66)" fill="#e02020">H</text>
<text transform="translate(370 768) scale(1.66 8.24)" fill="#f8c5c8">H</text>
<text transform="translate(370 772.7) scale(1.66 0.66)" fill="#1a9a1a">Q</text>
<text transform="translate(382 767) scale(2.25 5.31)" fill="#1414c8">Y</text>
<text transform="translate(382 772.7) scale(2.25 0.8)" fill="#1ec8c8">F</text>
<text transform="translate(421.5 752) scale(1.25 2.09)" fill="#f5a010">G</text>
<text transform="translate(421.5 760) scale(1.45 1.12)" fill="#1414c8">V</text>
<text transform="translate(421.5 766) scale(1.3 0.84)" fill="#1414c8">I</text>
<text transform="translate(421.5 772.7) scale(1.45 0.9)" fill="#1414c8">L</text>
<text transform="translate(431.5 756) scale(1.45 1.96)" fill="#1414c8">V</text>
<text transform="translate(431.5 763) scale(1.45 0.98)" fill="#e02020">C</text>
<text transform="translate(431.5 772.7) scale(1.45 1.3)" fill="#1414c8">X</text>
<text transform="translate(443 746) scale(2 3.2)" fill="#1414c8">I</text>
<text transform="translate(441.5 760) scale(1.45 1.96)" fill="#1414c8">V</text>
<text transform="translate(441.5 771) scale(1.35 1.54)" fill="#1414c8">C</text>
<text transform="translate(451.5 770) scale(1.35 9.78)" fill="#f8c5c8">H</text>
<text transform="translate(461.5 768) scale(1.25 8.1)" fill="#f6d8b8">G</text>
<text transform="translate(471.5 757) scale(1.45 2.3)" fill="#1414c8">V</text>
<text transform="translate(471.5 766) scale(1.35 1.26)" fill="#e02020">D</text>
<text transform="translate(481.5 750) scale(1.45 1.68)" fill="#e02020">E</text>
<text transform="translate(481.5 760) scale(1.35 1.4)" fill="#e02020">R</text>
<text transform="translate(481.5 767) scale(1.35 0.98)" fill="#ee22ee">D</text>
<text transform="translate(491.5 760) scale(1.45 1.12)" fill="#1a9a1a">S</text>
<text transform="translate(491.5 767) scale(1.45 0.98)" fill="#ee22ee">E</text>
<text transform="translate(491.5 772.7) scale(1.45 0.8)" fill="#1414c8">A</text>
<text transform="translate(501.5 762) scale(1.6 5.6)" fill="#1414c8">L</text>
<text transform="translate(501.5 772.7) scale(1.2 1.4)" fill="#1414c8">M</text>
<text transform="translate(511.5 762) scale(1.6 6.3)" fill="#1414c8">L</text>
<text transform="translate(511.5 772.7) scale(1.2 1.4)" fill="#1414c8">M</text>
</g>
<text class="cap" x="267" y="793">H1 region</text>
<text class="cap" x="376" y="793">YH motif</text>
<text class="cap" x="466" y="793">H2 region</text>
</g>
</svg>
